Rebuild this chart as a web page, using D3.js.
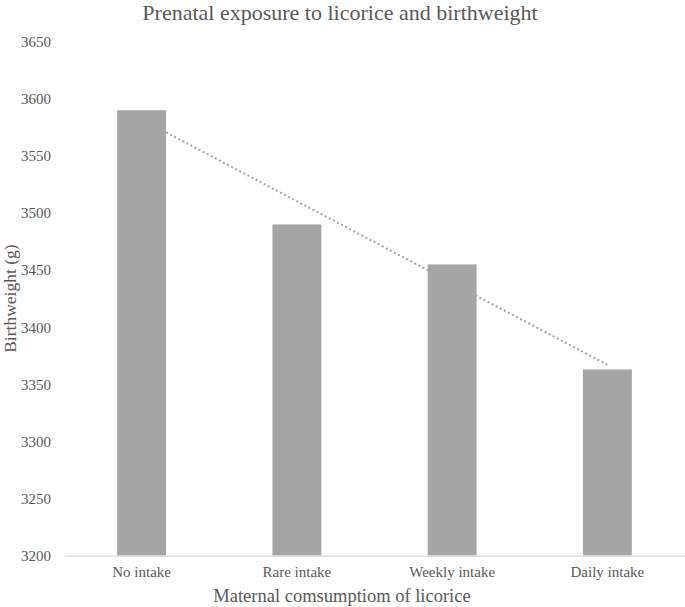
<!DOCTYPE html>
<html><head><meta charset="utf-8">
<script src="https://d3js.org/d3.v7.min.js"></script>
<style>body{margin:0;background:#fff}svg{display:block}</style>
</head><body>
<script>
const categories = ["No intake", "Rare intake", "Weekly intake", "Daily intake"];
const birthweight = [3590, 3490, 3455, 3363];
const yTicks = [3200, 3250, 3300, 3350, 3400, 3450, 3500, 3550, 3600, 3650];
const titleText = "Prenatal exposure to licorice and birthweight";
const xTitle = "Maternal comsumptiom of licorice";
const yTitle = "Birthweight (g)";

const W = 685, H = 607;
const m = {left: 64, right: 0, top: 41.7, bottom: 51.4};
const svg = d3.select("body").append("svg").attr("width", W).attr("height", H);
const font = "'Liberation Serif', 'Times New Roman', serif";
const txt = "#595959";

const x = d3.scaleBand().domain(categories).range([m.left, W - m.right]).paddingInner(0.685).paddingOuter(0.3425);
const y = d3.scaleLinear().domain([3200, 3650]).range([H - m.bottom, m.top]);

// linear trendline (regression over category index), drawn behind the bars
const n = birthweight.length;
const xs = d3.range(1, n + 1);
const mx = d3.mean(xs), my = d3.mean(birthweight);
const slope = d3.sum(xs, (v, i) => (v - mx) * (birthweight[i] - my)) / d3.sum(xs, v => (v - mx) ** 2);
const icpt = my - slope * mx;
const trend = categories.map((c, i) => ({c, v: icpt + slope * (i + 1)}));
svg.append("path")
  .datum([trend[0], trend[n - 1]])
  .attr("d", d3.line().x(d => x(d.c) + x.bandwidth() / 2).y(d => y(d.v)))
  .attr("fill", "none").attr("stroke", "#a5a5a5").attr("stroke-width", 2)
  .attr("stroke-dasharray", "2,2.6");

// bars
svg.append("g").selectAll("rect").data(categories).join("rect")
  .attr("x", d => x(d)).attr("width", x.bandwidth())
  .attr("y", (d, i) => y(birthweight[i]))
  .attr("height", (d, i) => y(3200) - y(birthweight[i]))
  .attr("fill", "#a5a5a5");

// x axis
const xa = svg.append("g").attr("transform", `translate(0,${y(3200)})`)
  .call(d3.axisBottom(x).tickSize(0).tickPadding(11));
xa.select(".domain").attr("stroke", "#d9d9d9").attr("stroke-width", 1.3);
xa.selectAll("text").attr("font-family", font).attr("font-size", 15).attr("fill", txt);

// y axis labels
const ya = svg.append("g").attr("transform", `translate(${m.left},0)`)
  .call(d3.axisLeft(y).tickValues(yTicks).tickSize(0).tickPadding(13).tickFormat(d3.format("d")));
ya.select(".domain").remove();
ya.selectAll("text").attr("font-family", font).attr("font-size", 15).attr("fill", txt);

// titles
svg.append("text").attr("x", 340).attr("y", 20).attr("text-anchor", "middle")
  .attr("font-family", font).attr("font-size", 22).attr("fill", txt).text(titleText);
svg.append("text").attr("x", 342).attr("y", 602).attr("text-anchor", "middle")
  .attr("font-family", font).attr("font-size", 18.5).attr("fill", txt).text(xTitle);
svg.append("text").attr("transform", `translate(16,${(y(3200) + y(3650)) / 2}) rotate(-90)`)
  .attr("text-anchor", "middle")
  .attr("font-family", font).attr("font-size", 17.5).attr("fill", txt).text(yTitle);
</script>
</body></html>
